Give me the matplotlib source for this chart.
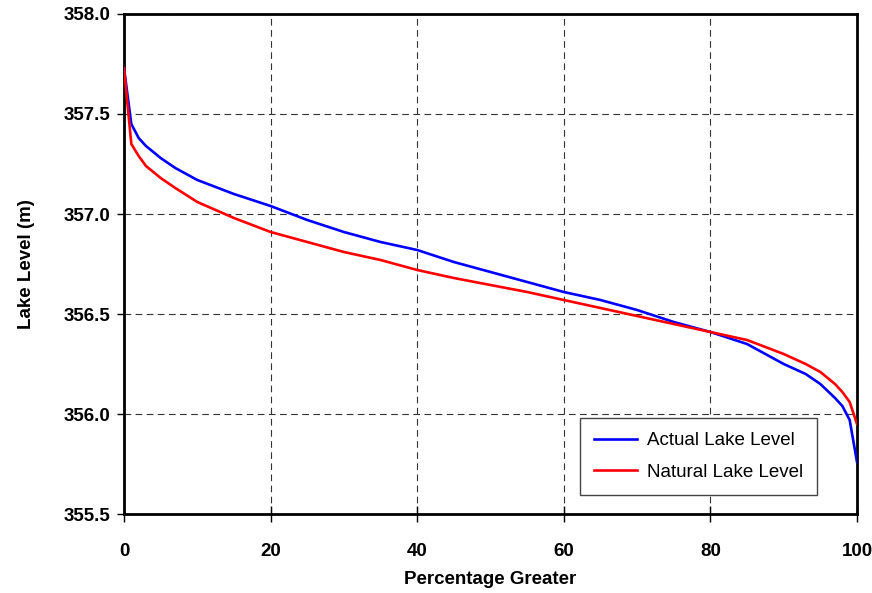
import numpy as np
import matplotlib.pyplot as plt

plt.rcParams['font.family'] = ['Liberation Sans', 'DejaVu Sans']

# percentage of time level is exceeded
pct = [0, 1, 2, 3, 4, 5, 7, 10, 15, 20, 25, 30, 35, 40, 45, 50, 55, 60,
       65, 70, 75, 80, 85, 90, 93, 95, 97, 98, 99, 100]

actual = [357.73, 357.45, 357.38, 357.34, 357.31, 357.28, 357.23, 357.17,
          357.10, 357.04, 356.97, 356.91, 356.86, 356.82, 356.76, 356.71,
          356.66, 356.61, 356.57, 356.52, 356.46, 356.41, 356.35, 356.25,
          356.20, 356.15, 356.08, 356.04, 355.97, 355.76]

natural = [357.73, 357.35, 357.29, 357.24, 357.21, 357.18, 357.13, 357.06,
           356.98, 356.91, 356.86, 356.81, 356.77, 356.72, 356.68, 356.645,
           356.61, 356.57, 356.53, 356.49, 356.45, 356.41, 356.37, 356.30,
           356.25, 356.21, 356.15, 356.11, 356.06, 355.95]

xticks = [0, 20, 40, 60, 80, 100]
yticks = [355.5, 356.0, 356.5, 357.0, 357.5, 358.0]

fig = plt.figure(figsize=(8.72, 5.93), dpi=100)
ax = fig.add_axes([0.1422, 0.1332, 0.8406, 0.8432])

ax.plot(pct, actual, color='#0000ff', lw=1.9, label='Actual Lake Level', zorder=3)
ax.plot(pct, natural, color='#ff0000', lw=1.9, label='Natural Lake Level', zorder=3)

ax.set_xlim(0, 100)
ax.set_ylim(355.5, 358.0)
ax.set_xticks(xticks)
ax.set_yticks(yticks)
ax.set_xticklabels([str(v) for v in xticks], fontsize=13.5, fontweight='bold')
ax.set_yticklabels([f'{v:.1f}' for v in yticks], fontsize=13.5, fontweight='bold')
ax.tick_params(axis='y', direction='out', length=5, width=1, pad=5)
ax.tick_params(axis='x', direction='inout', length=12, width=1, pad=15)

ax.grid(True, color='#333333', linestyle=(0, (6, 4)), linewidth=0.8)
for s in ax.spines.values():
    s.set_linewidth(2)
    s.set_color('black')

ax.set_xlabel('Percentage Greater', fontsize=13.5, fontweight='bold', labelpad=8)
ax.set_ylabel('Lake Level (m)', fontsize=13.5, fontweight='bold', labelpad=20)

leg = ax.legend(loc='lower right', bbox_to_anchor=(0.958, 0.02), fontsize=13.5,
                fancybox=False, framealpha=1, edgecolor='#444444',
                handlelength=2.3, handletextpad=0.5, borderpad=0.75, labelspacing=0.75)
leg.get_frame().set_linewidth(1)

fig.savefig('out.png', dpi=100)
